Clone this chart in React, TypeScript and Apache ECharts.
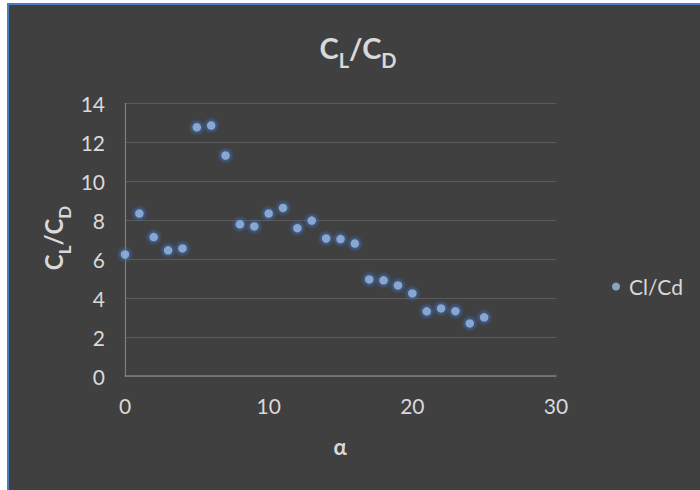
import React, { useEffect, useRef } from "react";
import * as echarts from "echarts";

// Angle of attack (deg) and lift-to-drag ratio
const alpha = [0, 1, 2, 3, 4, 5, 6, 7, 8, 9, 10, 11, 12, 13, 14, 15, 16, 17, 18, 19, 20, 21, 22, 23, 24, 25];
const clcd = [6.24, 8.34, 7.13, 6.45, 6.55, 12.77, 12.86, 11.32, 7.79, 7.68, 8.34, 8.63, 7.59, 7.98, 7.06, 7.03, 6.8, 4.96, 4.91, 4.65, 4.24, 3.32, 3.47, 3.33, 2.7, 3.01];
const seriesName = "Cl/Cd";

const FONT = "Lato, 'Open Sans', 'DejaVu Sans', sans-serif";
const TEXT = "#d9d9d9";

// Rich styles giving the C_L / C_D subscripts: main letters sit at the top of the
// line, subscripts at its bottom, the line height sets the drop.
function subRich(main: number, sub: number, lineH: number) {
  return {
    m: { fontSize: main, fontWeight: "bold", fontFamily: FONT, fill: TEXT, verticalAlign: "top" },
    s: { fontSize: sub, fontWeight: "bold", fontFamily: FONT, fill: TEXT, lineHeight: lineH, verticalAlign: "bottom" },
  };
}

export default function App() {
  const ref = useRef<HTMLDivElement>(null);

  useEffect(() => {
    document.body.style.margin = "0";
    const chart = echarts.init(ref.current!, null, { renderer: "svg" });
    const data = alpha.map((a, i) => [a, clcd[i]]);
    // soft blue glow drawn under each marker
    const glow = (size: number, opacity: number, z: number) => ({
      type: "scatter",
      data,
      symbol: "circle",
      symbolSize: size,
      silent: true,
      z,
      itemStyle: { color: `rgba(60,110,185,${opacity})` },
      emphasis: { disabled: true },
    });
    chart.setOption({
      animation: false,
      backgroundColor: "transparent",
      textStyle: { fontFamily: FONT },
      grid: { left: 125, top: 103.3, right: 144, bottom: 114, containLabel: false },
      xAxis: {
        type: "value",
        min: 0,
        max: 30,
        interval: 10,
        axisLine: { show: true, lineStyle: { color: "#7f7f7f", width: 1.5 } },
        axisTick: { show: false },
        splitLine: { show: false },
        axisLabel: { color: TEXT, fontSize: 21, fontFamily: FONT, margin: 19 },
      },
      yAxis: {
        type: "value",
        min: 0,
        max: 14,
        interval: 2,
        axisLine: { show: true, onZero: false, lineStyle: { color: "#7f7f7f", width: 1.2 } },
        axisTick: { show: false },
        splitLine: { show: true, lineStyle: { color: "#5a5a5a", width: 1.2 } },
        axisLabel: { color: TEXT, fontSize: 21, fontFamily: FONT, margin: 20 },
      },
      legend: {
        orient: "vertical",
        left: 607,
        top: 271,
        icon: "circle",
        itemWidth: 8,
        itemHeight: 8,
        textStyle: { color: TEXT, fontSize: 21, fontFamily: FONT, padding: [0, 0, 0, 4] },
        data: [seriesName],
      },
      series: [
        glow(16, 0.25, 1),
        glow(12.5, 0.45, 1),
        {
          name: seriesName,
          type: "scatter",
          data,
          symbol: "circle",
          symbolSize: 8.5,
          z: 3,
          itemStyle: { color: "#9cbbe3" },
        },
      ],
      graphic: [
        {
          type: "text",
          x: 358,
          y: 33,
          style: {
            text: "{m|C}{s|L}{m|/C}{s|D}",
            rich: subRich(29, 20, 37),
            align: "center",
            verticalAlign: "top",
          },
        },
        {
          type: "text",
          x: 57,
          y: 238,
          rotation: Math.PI / 2,
          style: {
            text: "{m|C}{s|L}{m|/C}{s|D}",
            rich: subRich(24, 17, 32),
            align: "center",
            verticalAlign: "middle",
          },
        },
        {
          type: "text",
          x: 340,
          y: 446,
          style: {
            text: "α",
            fill: TEXT,
            fontSize: 22,
            fontWeight: "bold",
            fontFamily: FONT,
            align: "center",
            verticalAlign: "middle",
          },
        },
      ],
    });
    return () => chart.dispose();
  }, []);

  return (
    <div style={{ position: "relative", width: 700, height: 490, background: "#ffffff", overflow: "hidden" }}>
      <div
        style={{
          position: "absolute",
          left: 7,
          top: 3,
          right: 0,
          bottom: 0,
          background: "#404040",
          borderLeft: "2px solid #4a7ebb",
          borderTop: "2px solid #4a7ebb",
        }}
      />
      <div ref={ref} style={{ position: "absolute", left: 0, top: 0, width: 700, height: 490 }} />
    </div>
  );
}
